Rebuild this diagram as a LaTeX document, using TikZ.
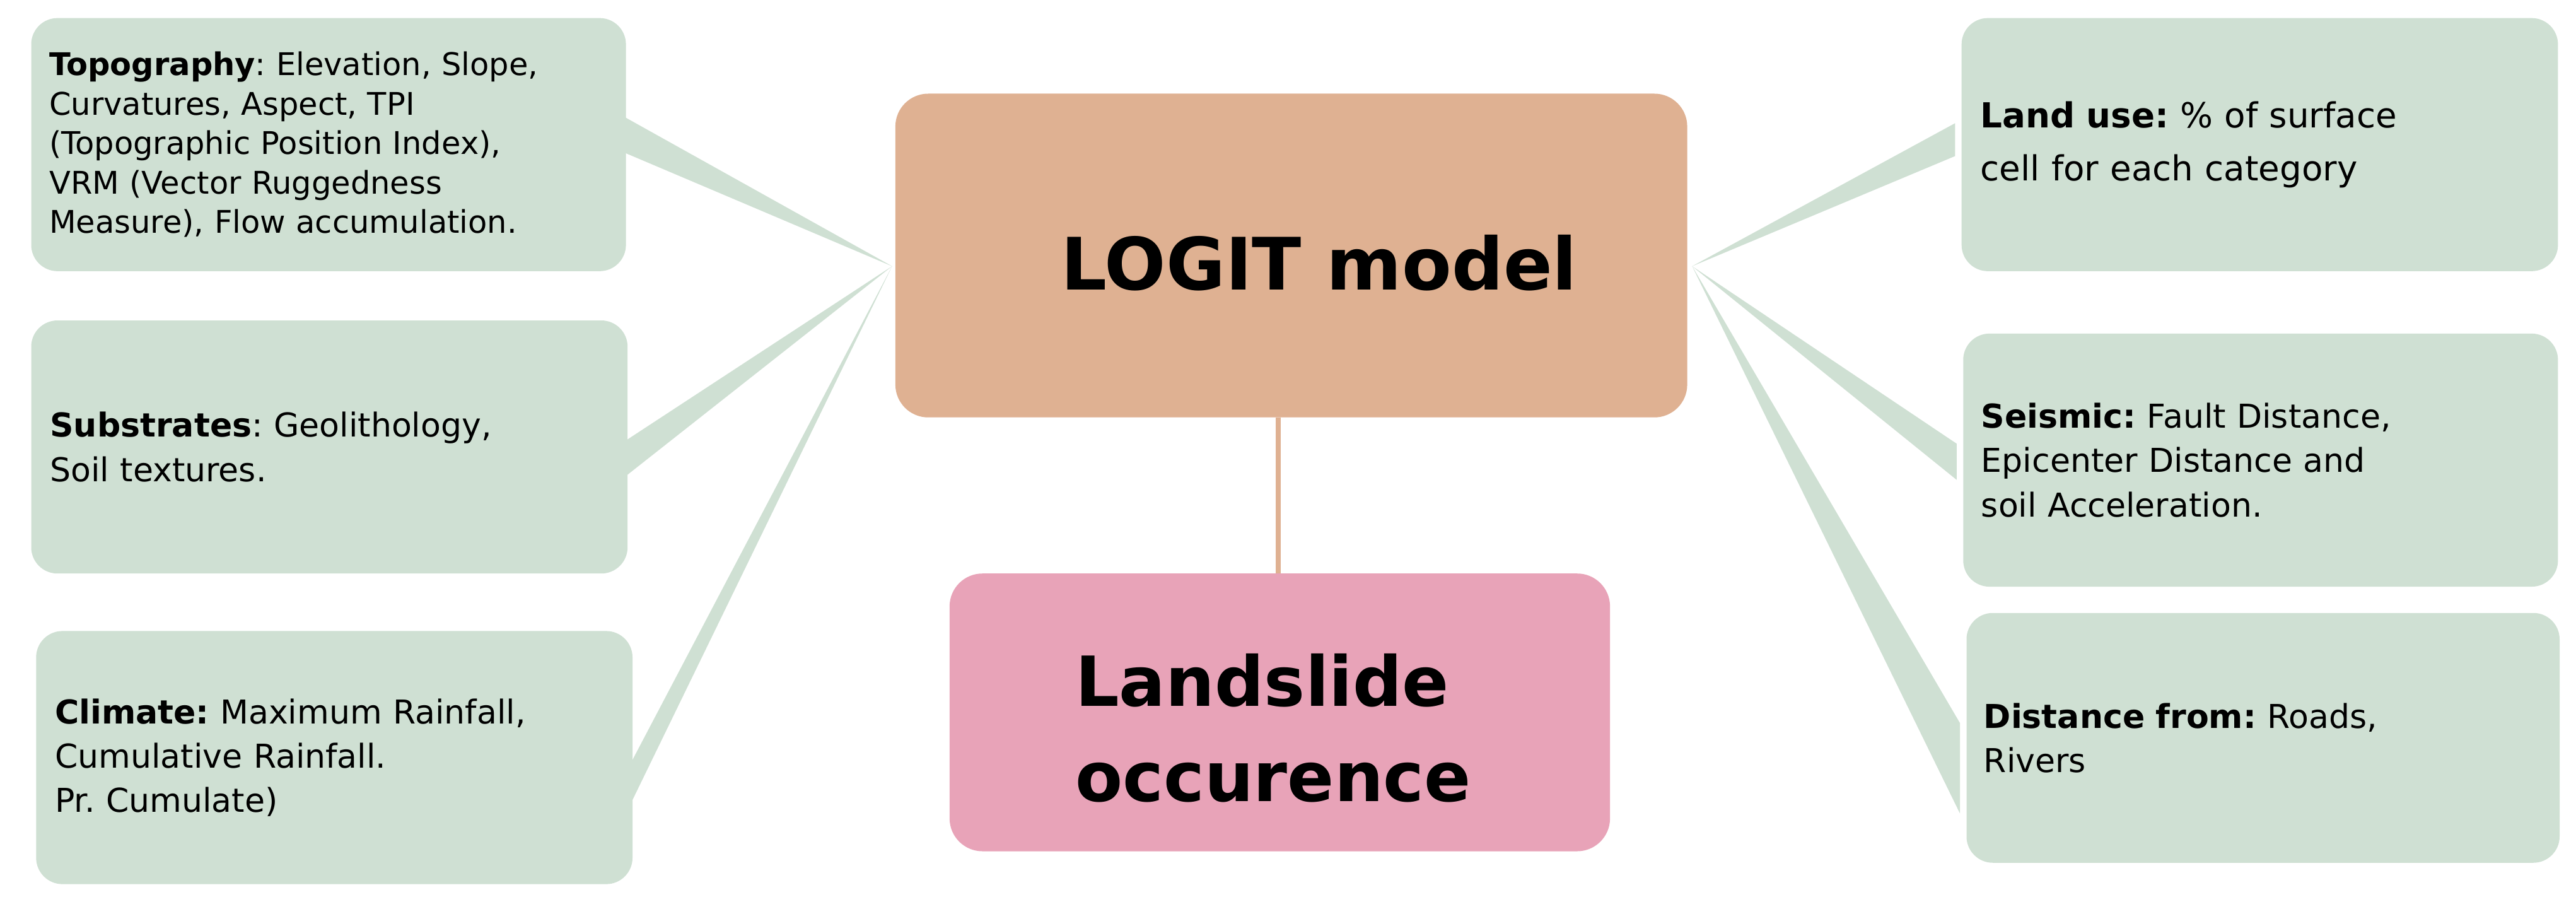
\documentclass[tikz,border=0pt]{standalone}
\usepackage{fontspec}
\setmainfont{DejaVu Sans}
\definecolor{gbox}{HTML}{CFE0D3}
\definecolor{logit}{HTML}{DFB192}
\definecolor{land}{HTML}{E8A3B8}
\frenchspacing
\begin{document}
\begin{tikzpicture}[x=0.5pt,y=-0.5pt,
  box/.style={fill=gbox,rounded corners=8pt,inner sep=0pt,align=left},
  wedge/.style={fill=gbox}]
\useasboundingbox (0,0) rectangle (1568,556);
\fill[white] (0,0) rectangle (1568,556);
% wedges
\coordinate (L) at (543,162);
\coordinate (R) at (1030,162);
\fill[wedge] (L) -- (378,70) -- (378,92) -- cycle;
\fill[wedge] (L) -- (378,270) -- (378,292) -- cycle;
\fill[wedge] (L) -- (381,470) -- (381,495) -- cycle;
\fill[wedge] (R) -- (1190,75) -- (1190,95) -- cycle;
\fill[wedge] (R) -- (1191,270) -- (1191,292) -- cycle;
\fill[wedge] (R) -- (1193,440) -- (1193,495) -- cycle;
% boxes
\node[box,minimum width=181pt,minimum height=77pt,text width=170pt,font=\fontsize{9.5}{12}\selectfont] (topo) at (200,88)
 {\textbf{Topography}: Elevation, Slope,\\Curvatures, Aspect, TPI\\(Topographic Position Index),\\VRM (Vector Ruggedness\\Measure), Flow accumulation.};
\node[box,minimum width=181.5pt,minimum height=77pt,text width=170pt,font=\fontsize{10}{13.5}\selectfont] (sub) at (200.5,272)
 {\textbf{Substrates}: Geolithology,\\Soil textures.};
\node[box,minimum width=181.5pt,minimum height=77pt,text width=170pt,font=\fontsize{10}{13.5}\selectfont] (cli) at (203.5,461)
 {\textbf{Climate:} Maximum Rainfall,\\Cumulative Rainfall.\\Pr. Cumulate)};
\node[box,minimum width=181.5pt,minimum height=77pt,text width=170pt,font=\fontsize{10.5}{16}\selectfont] (lu) at (1375.5,88)
 {\textbf{Land use:} \% of surface\\cell for each category};
\node[box,minimum width=181pt,minimum height=77pt,text width=170pt,font=\fontsize{10}{13.5}\selectfont] (sei) at (1376,280)
 {\textbf{Seismic:} Fault Distance,\\Epicenter Distance and\\soil Acceleration.};
\node[box,minimum width=180.5pt,minimum height=76pt,text width=170pt,font=\fontsize{10}{13.5}\selectfont] (dist) at (1377.5,449)
 {\textbf{Distance from:} Roads,\\Rivers};
\fill[logit,rounded corners=10pt] (545,57) rectangle (1027,254);
\node[font=\fontsize{22}{26}\bfseries] (logitn) at (803,160) {LOGIT model};
\fill[land,rounded corners=10pt] (578,349) rectangle (980,518);
\node[align=left,font=\fontsize{21}{29}\bfseries] (ls) at (775,443) {Landslide\\occurence};
\draw[logit,line width=1.5pt] (778,254) -- (778,349);
\end{tikzpicture}
\end{document}
